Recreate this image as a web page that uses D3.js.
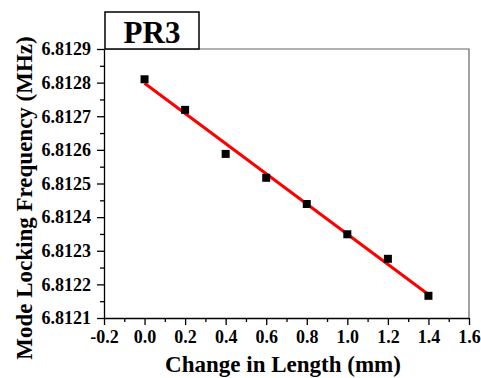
<!DOCTYPE html>
<html><head><meta charset="utf-8">
<script src="https://cdn.jsdelivr.net/npm/d3@7"></script>
<style>body{margin:0;background:#fff}svg{display:block}</style>
</head><body>
<svg id="c" width="481" height="378"></svg>
<script>
const lengths = [0, 0.2, 0.4, 0.6, 0.8, 1.0, 1.2, 1.4];
const freqs = [6.81281, 6.812719, 6.812588, 6.812517, 6.812439, 6.812349, 6.812276, 6.812166];
const fitX = [0, 1.4];
const fitY = [6.812798, 6.812170];
const xTicks = [-0.2, 0.0, 0.2, 0.4, 0.6, 0.8, 1.0, 1.2, 1.4, 1.6];
const yTicks = [6.8121, 6.8122, 6.8123, 6.8124, 6.8125, 6.8126, 6.8127, 6.8128, 6.8129];
const title = "PR3";
const xTitle = "Change in Length (mm)";
const yTitle = "Mode Locking Frequency (MHz)";

const svg = d3.select("#c");
const L = 104, R = 469, T = 49, B = 318;
const x = d3.scaleLinear().domain([-0.2, 1.6]).range([L, R]);
const y = d3.scaleLinear().domain([6.8121, 6.8129]).range([B, T]);
const font = "'Liberation Serif','Times New Roman',serif";

// frame top/right
svg.append("path").attr("d", `M${L},${T}H${R}V${B}`).attr("fill","none").attr("stroke","#666").attr("stroke-width",1.2);

// minor ticks
const xMinor = d3.range(-0.1, 1.6, 0.2);
const yMinor = d3.range(6.81215, 6.8129, 0.0001);

const xAxis = svg.append("g").attr("transform", `translate(0,${B})`)
  .call(d3.axisBottom(x).tickValues(xTicks).tickFormat(d3.format(".1f")).tickSize(7).tickSizeOuter(0).tickPadding(5));
svg.append("g").attr("transform", `translate(0,${B})`)
  .call(d3.axisBottom(x).tickValues(xMinor).tickFormat("").tickSize(4).tickSizeOuter(0))
  .select(".domain").remove();
const yAxis = svg.append("g").attr("transform", `translate(${L},0)`)
  .call(d3.axisLeft(y).tickValues(yTicks).tickFormat(d3.format(".4f")).tickSize(7).tickSizeOuter(0).tickPadding(6));
svg.append("g").attr("transform", `translate(${L},0)`)
  .call(d3.axisLeft(y).tickValues(yMinor).tickFormat("").tickSize(4).tickSizeOuter(0))
  .select(".domain").remove();

svg.selectAll(".tick line, .domain").attr("stroke","#000").attr("stroke-width",1.3);
svg.selectAll(".tick text").style("font-family", font).style("font-weight","bold").style("font-size","18px").attr("fill","#000");
xAxis.selectAll(".tick text").text(d => d < 0 ? "-" + d3.format(".1f")(-d) : d3.format(".1f")(d));

// fit line
svg.append("line")
  .attr("x1", x(fitX[0])).attr("y1", y(fitY[0]))
  .attr("x2", x(fitX[1])).attr("y2", y(fitY[1]))
  .attr("stroke", "#ff0000").attr("stroke-width", 3);

// points
const s = 8;
svg.selectAll("rect.pt").data(lengths.map((l,i)=>[l,freqs[i]])).enter().append("rect")
  .attr("class","pt")
  .attr("x", d => x(d[0]) - s/2).attr("y", d => y(d[1]) - s/2)
  .attr("width", s).attr("height", s).attr("fill", "#000");

// title box
svg.append("rect").attr("x", 105).attr("y", 12).attr("width", 94).attr("height", 37)
  .attr("fill","#fff").attr("stroke","#000").attr("stroke-width",1.5);
svg.append("text").attr("x", 152).attr("y", 43).attr("text-anchor","middle")
  .style("font-family", font).style("font-weight","bold").style("font-size","31px").text(title);

// axis titles
svg.append("text").attr("x", 283).attr("y", 372).attr("text-anchor","middle")
  .style("font-family", font).style("font-weight","bold").style("font-size","23px").text(xTitle);
svg.append("text").attr("transform", "translate(32,198) rotate(-90)").attr("text-anchor","middle")
  .style("font-family", font).style("font-weight","bold").style("font-size","23px").text(yTitle);
</script>
</body></html>
